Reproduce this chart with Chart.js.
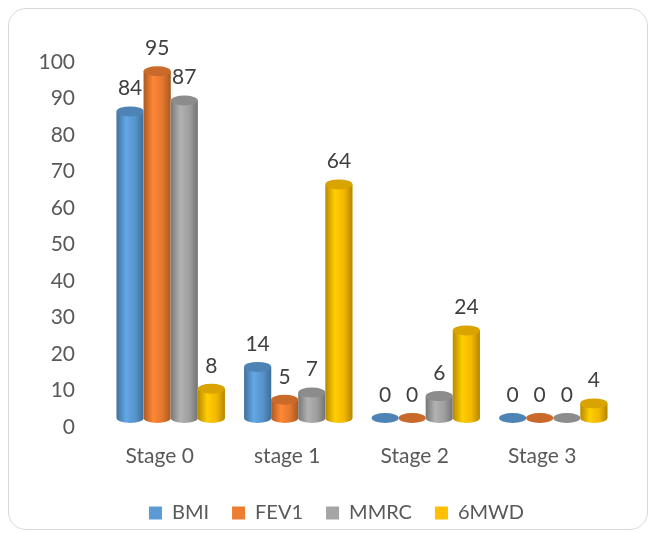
<!DOCTYPE html>
<html lang="en">
<head>
    <meta charset="UTF-8">
    <title>Stages chart</title>
    <script src="https://cdn.jsdelivr.net/npm/chart.js"></script>
    <style>
        body { margin: 0; padding: 0; background: #fff; }
        .frame { position: absolute; left: 8px; top: 8px; width: 638px; height: 520px; border: 1px solid #d9d9d9; border-radius: 18px; }
        .wrap { position: absolute; left: 0; top: 0; width: 652px; height: 533px; }
    </style>
</head>
<body>
    <div class="frame"></div>
    <div class="wrap"><canvas id="stageChart" width="652" height="533"></canvas></div>
    <script>
    const stages = ["Stage 0", "stage 1", "Stage 2", "Stage 3"];
    const bmi = [84, 14, 0, 0];
    const fev1 = [95, 5, 0, 0];
    const mmrc = [87, 7, 6, 0];
    const sixMwd = [8, 64, 24, 4];
    const yTicks = [0, 10, 20, 30, 40, 50, 60, 70, 80, 90, 100];

    const colors = ["#5B9BD5", "#ED7D31", "#A5A5A5", "#FFC000"];

    function shade(hex, f) {
        const n = parseInt(hex.slice(1), 16);
        let r = (n >> 16) & 255, g = (n >> 8) & 255, b = n & 255;
        const c = v => Math.max(0, Math.min(255, Math.round(v * f)));
        return "rgb(" + c(r) + "," + c(g) + "," + c(b) + ")";
    }

    // draws each bar as a cylinder, plus the value labels
    const cylinders = {
        id: "cylinders",
        afterLayout(chart) {
            // legend sits a bit right of centre in the original
            chart.legend.left += 28;
            chart.legend.right += 28;
        },
        afterDatasetsDraw(chart) {
            const ctx = chart.ctx;
            const base = chart.scales.y.getPixelForValue(0);
            chart.data.datasets.forEach((ds, i) => {
                const meta = chart.getDatasetMeta(i);
                const col = colors[i];
                meta.data.forEach((bar, j) => {
                    const w = bar.width;
                    const x0 = bar.x - w / 2;
                    const top = bar.y;
                    const rx = w / 2, ry = 5;
                    ctx.save();
                    ctx.fillStyle = "#fff";
                    ctx.fillRect(x0, top, w, base - top);
                    if (base - top > 0.5) {
                        const g = ctx.createLinearGradient(x0, 0, x0 + w, 0);
                        g.addColorStop(0, shade(col, 0.72));
                        g.addColorStop(0.35, shade(col, 1.08));
                        g.addColorStop(0.7, shade(col, 0.95));
                        g.addColorStop(1, shade(col, 0.7));
                        ctx.fillStyle = g;
                        ctx.beginPath();
                        ctx.moveTo(x0, top);
                        ctx.lineTo(x0, base);
                        ctx.ellipse(bar.x, base, rx, ry, 0, Math.PI, 0, true);
                        ctx.lineTo(x0 + w, top);
                        ctx.closePath();
                        ctx.fill();
                    }
                    ctx.fillStyle = shade(col, 0.85);
                    ctx.beginPath();
                    ctx.ellipse(bar.x, top, rx, ry, 0, 0, Math.PI * 2);
                    ctx.fill();
                    ctx.restore();

                    ctx.save();
                    ctx.fillStyle = "#404040";
                    ctx.font = "21px Lato";
                    ctx.textAlign = "center";
                    ctx.textBaseline = "middle";
                    ctx.fillText(ds.data[j], bar.x, top - 23);
                    ctx.restore();
                });
            });
        }
    };

    new Chart(document.getElementById("stageChart"), {
        type: "bar",
        data: {
            labels: stages,
            datasets: [
                { label: "BMI", data: bmi, backgroundColor: colors[0] },
                { label: "FEV1", data: fev1, backgroundColor: colors[1] },
                { label: "MMRC", data: mmrc, backgroundColor: colors[2] },
                { label: "6MWD", data: sixMwd, backgroundColor: colors[3] }
            ]
        },
        options: {
            responsive: false,
            animation: false,
            layout: { padding: { top: 53, right: 35, bottom: 0, left: 0 } },
            datasets: { bar: { categoryPercentage: 0.85, barPercentage: 1.0 } },
            scales: {
                x: {
                    grid: { display: false, drawTicks: false },
                    border: { display: false },
                    ticks: { color: "#595959", font: { family: "Lato", size: 21 }, padding: 26, labelOffset: -11 },
                    afterFit(axis) { axis.height = 62; }
                },
                y: {
                    min: 0, max: 100,
                    afterBuildTicks(axis) { axis.ticks = yTicks.map(v => ({ value: v })); },
                    grid: { display: false, drawTicks: false },
                    border: { display: false },
                    ticks: { color: "#595959", font: { family: "Lato", size: 21 }, padding: 32, labelOffset: 9 },
                    afterFit(axis) { axis.width = 107; }
                }
            },
            plugins: {
                legend: {
                    position: "bottom",
                    labels: { color: "#595959", font: { family: "Lato", size: 20 }, boxWidth: 13, boxHeight: 13, padding: 23 }
                },
                tooltip: { enabled: false }
            }
        },
        plugins: [cylinders]
    });
    </script>
</body>
</html>
